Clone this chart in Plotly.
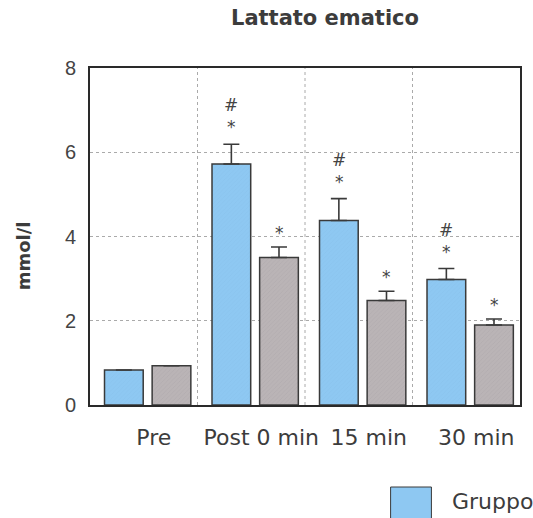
import plotly.graph_objects as go

categories = ["Pre", "Post 0 min", "15 min", "30 min"]
series_names = ["Gruppo", "Controllo"]
blue_values = [0.83, 5.72, 4.38, 2.98]
blue_err = [0.0, 0.47, 0.52, 0.26]
gray_values = [0.93, 3.5, 2.48, 1.9]
gray_err = [0.0, 0.25, 0.22, 0.14]
blue_marks = ["", "#<br>*", "#<br>*", "#<br>*"]
gray_marks = ["", "*", "*", "*"]
y_ticks = [0, 2, 4, 6, 8]

BLUE = "#8EC8F2"
GRAY = "#BAB4B6"
EDGE = "#3a3a3a"
TXT = "#3c3c3c"

BAR_W = 0.36
BLUE_OFF = -0.365
GRAY_OFF = 0.078

fig = go.Figure()
fig.add_trace(go.Bar(
    x=categories, y=blue_values, name=series_names[0], width=BAR_W, offset=BLUE_OFF,
    marker=dict(color=BLUE, line=dict(color=EDGE, width=1.5),
                pattern=dict(shape="/", fgcolor="#7fb8e4", size=3, solidity=0.15)),
    error_y=dict(type="data", array=blue_err, symmetric=False, arrayminus=[0]*4,
                 color=EDGE, thickness=1.6, width=8),
))
fig.add_trace(go.Bar(
    x=categories, y=gray_values, name=series_names[1], width=BAR_W, offset=GRAY_OFF,
    marker=dict(color=GRAY, line=dict(color=EDGE, width=1.5),
                pattern=dict(shape="/", fgcolor="#a7a0a3", size=3, solidity=0.2)),
    error_y=dict(type="data", array=gray_err, symmetric=False, arrayminus=[0]*4,
                 color=EDGE, thickness=1.6, width=8),
))

CAT_PX = 108
for i, c in enumerate(categories):
    if blue_marks[i]:
        fig.add_annotation(x=c, y=blue_values[i] + blue_err[i],
                           xshift=(BLUE_OFF + BAR_W / 2) * CAT_PX, yshift=5,
                           yanchor="bottom", text=blue_marks[i], showarrow=False,
                           font=dict(family="DejaVu Sans", size=17, color="#444"))
    if gray_marks[i]:
        fig.add_annotation(x=c, y=gray_values[i] + gray_err[i],
                           xshift=(GRAY_OFF + BAR_W / 2) * CAT_PX, yshift=2,
                           yanchor="bottom", text=gray_marks[i], showarrow=False,
                           font=dict(family="DejaVu Sans", size=17, color="#444"))

# legend swatch
fig.add_shape(type="rect", xref="paper", yref="paper", x0=(392-90)/432, x1=(433-90)/432,
              y0=-(487-405)/337, y1=-(530-405)/337, fillcolor=BLUE,
              line=dict(color=EDGE, width=1))
fig.add_annotation(xref="paper", yref="paper", x=(452-90)/432, y=-(501-405)/337,
                   xanchor="left", yanchor="middle", text=series_names[0], showarrow=False,
                   font=dict(family="DejaVu Sans", size=22, color=TXT))

# y-axis title
fig.add_annotation(xref="paper", yref="paper", x=(24-90)/432, y=(405-256)/337,
                   xanchor="center", yanchor="middle", textangle=-90,
                   text="<b>mmol/l</b>", showarrow=False,
                   font=dict(family="DejaVu Sans", size=18, color=TXT))

fig.update_layout(
    width=533, height=518,
    margin=dict(l=90, r=11, t=68, b=113),
    paper_bgcolor="white", plot_bgcolor="white",
    barmode="group",
    showlegend=False,
    title=dict(text="<b>Lattato ematico</b>", x=325/533, xanchor="center",
               y=1 - 18/518, yanchor="middle",
               font=dict(family="DejaVu Sans", size=21, color=TXT)),
    font=dict(family="DejaVu Sans", color=TXT),
)
fig.update_xaxes(
    showline=True, mirror=True, linecolor="#2a2a2a", linewidth=2,
    showgrid=False, ticks="", tickfont=dict(family="DejaVu Sans", size=22, color=TXT),
    ticklabelstandoff=12, ticklabelshift=10,
)
for k in range(1, len(categories)):
    fig.add_vline(x=k - 0.5, line=dict(color="#aaaaaa", width=1, dash="dot"), layer="below")
fig.update_yaxes(
    range=[0, 8], tickvals=y_ticks, showline=True, mirror=True, linecolor="#2a2a2a", linewidth=2,
    showgrid=True, gridcolor="#aaaaaa", griddash="dot", gridwidth=1, zeroline=False,
    ticks="", tickfont=dict(family="Liberation Sans", size=20, color="#444"),
    ticklabelstandoff=8,
)

fig.write_html("out.html")
